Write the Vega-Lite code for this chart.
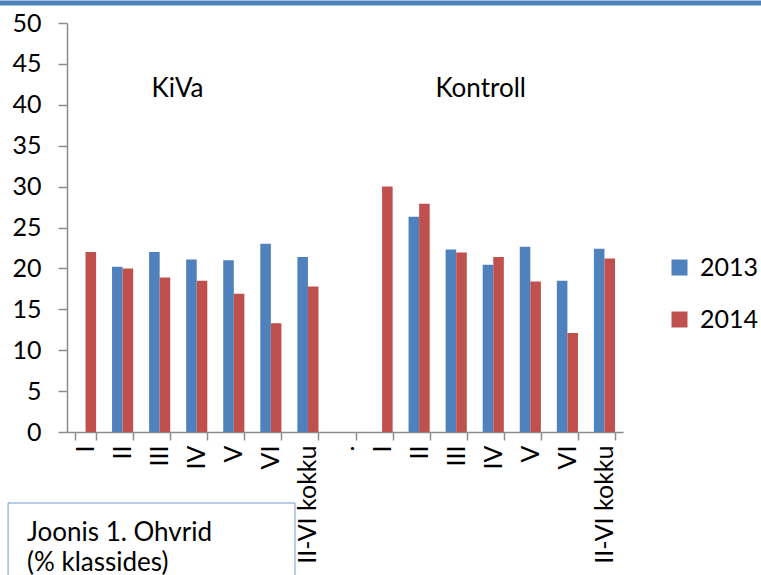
{
  "$schema": "https://vega.github.io/schema/vega-lite/v6.json",
  "autosize": {"type": "none"},
  "width": 556,
  "height": 409,
  "padding": {"left": 67, "top": 23, "right": 138, "bottom": 143},
  "background": "white",
  "config": {"view": {"stroke": null}, "font": "Lato"},
  "datasets": {
    "bars": [
      {"cat": "KiVa|I", "year": "2014", "value": 22.0},
      {"cat": "KiVa|II", "year": "2013", "value": 20.2},
      {"cat": "KiVa|II", "year": "2014", "value": 20.0},
      {"cat": "KiVa|III", "year": "2013", "value": 22.0},
      {"cat": "KiVa|III", "year": "2014", "value": 18.9},
      {"cat": "KiVa|IV", "year": "2013", "value": 21.1},
      {"cat": "KiVa|IV", "year": "2014", "value": 18.5},
      {"cat": "KiVa|V", "year": "2013", "value": 21.0},
      {"cat": "KiVa|V", "year": "2014", "value": 16.9},
      {"cat": "KiVa|VI", "year": "2013", "value": 23.0},
      {"cat": "KiVa|VI", "year": "2014", "value": 13.3},
      {"cat": "KiVa|II-VI kokku", "year": "2013", "value": 21.4},
      {"cat": "KiVa|II-VI kokku", "year": "2014", "value": 17.8},
      {"cat": "Kontroll|I", "year": "2014", "value": 30.0},
      {"cat": "Kontroll|II", "year": "2013", "value": 26.3},
      {"cat": "Kontroll|II", "year": "2014", "value": 27.9},
      {"cat": "Kontroll|III", "year": "2013", "value": 22.3},
      {"cat": "Kontroll|III", "year": "2014", "value": 21.95},
      {"cat": "Kontroll|IV", "year": "2013", "value": 20.45},
      {"cat": "Kontroll|IV", "year": "2014", "value": 21.4},
      {"cat": "Kontroll|V", "year": "2013", "value": 22.65},
      {"cat": "Kontroll|V", "year": "2014", "value": 18.4},
      {"cat": "Kontroll|VI", "year": "2013", "value": 18.5},
      {"cat": "Kontroll|VI", "year": "2014", "value": 12.1},
      {"cat": "Kontroll|II-VI kokku", "year": "2013", "value": 22.4},
      {"cat": "Kontroll|II-VI kokku", "year": "2014", "value": 21.2}
    ],
    "groupLabels": [
      {"x": 2.98, "y": 40.95, "text": "KiVa"},
      {"x": 11.16, "y": 40.95, "text": "Kontroll"}
    ],
    "boxText": [
      {"x": -1.079, "y": -13.33, "text": "Joonis 1. Ohvrid"},
      {"x": -1.079, "y": -17.0, "text": "(% klassides)"}
    ],
    "box": [{"x": -1.59, "x2": 6.15, "y": -8.68, "y2": -20}],
    "topBar": [{"x": -1.81, "x2": 18.73, "y": 52.45}]
  },
  "layer": [
    {
      "data": {"name": "topBar"},
      "mark": {"type": "rule", "color": "#4f81bd", "strokeWidth": 5},
      "encoding": {
        "x": {"field": "x", "type": "quantitative", "scale": {"domain": [0, 15], "nice": false, "zero": false}, "axis": null},
        "x2": {"field": "x2"},
        "y": {"field": "y", "type": "quantitative", "scale": {"domain": [0, 50], "nice": false}, "axis": null}
      }
    },
    {
      "data": {"name": "box"},
      "mark": {"type": "rect", "fill": "white", "stroke": "#7099cf", "strokeWidth": 1},
      "encoding": {
        "x": {"field": "x", "type": "quantitative", "scale": {"domain": [0, 15], "nice": false, "zero": false}, "axis": null},
        "x2": {"field": "x2"},
        "y": {"field": "y", "type": "quantitative", "scale": {"domain": [0, 50], "nice": false}, "axis": null},
        "y2": {"field": "y2"}
      }
    },
    {
      "data": {"name": "boxText"},
      "mark": {"type": "text", "align": "left", "baseline": "alphabetic", "fontSize": 26, "font": "Lato", "color": "black"},
      "encoding": {
        "x": {"field": "x", "type": "quantitative", "scale": {"domain": [0, 15], "nice": false, "zero": false}, "axis": null},
        "y": {"field": "y", "type": "quantitative", "scale": {"domain": [0, 50], "nice": false}, "axis": null},
        "text": {"field": "text"}
      }
    },
    {
      "data": {"name": "groupLabels"},
      "mark": {"type": "text", "align": "center", "baseline": "alphabetic", "fontSize": 26, "font": "Lato", "color": "black"},
      "encoding": {
        "x": {"field": "x", "type": "quantitative", "scale": {"domain": [0, 15], "nice": false, "zero": false}, "axis": null},
        "y": {"field": "y", "type": "quantitative", "scale": {"domain": [0, 50], "nice": false}, "axis": null},
        "text": {"field": "text"}
      }
    },
    {
      "data": {"name": "bars"},
      "mark": {"type": "bar"},
      "encoding": {
        "x": {
          "field": "cat",
          "type": "nominal",
          "sort": null,
          "scale": {
            "domain": ["KiVa|I", "KiVa|II", "KiVa|III", "KiVa|IV", "KiVa|V", "KiVa|VI", "KiVa|II-VI kokku", "|.", "Kontroll|I", "Kontroll|II", "Kontroll|III", "Kontroll|IV", "Kontroll|V", "Kontroll|VI", "Kontroll|II-VI kokku"],
            "paddingInner": 0.43,
            "paddingOuter": 0.215
          },
          "axis": {
            "title": null,
            "labelExpr": "split(datum.value, '|')[1]",
            "labelAngle": -90,
            "labelFontSize": 25,
            "labelFont": "Lato",
            "labelColor": "black",
            "labelLimit": 300,
            "tickBand": "extent",
            "tickSize": 8,
            "tickWidth": 1.5,
            "tickColor": "#8c8c8c",
            "domainColor": "#8c8c8c",
            "domainWidth": 1.5,
            "labelPadding": 5,
            "grid": false
          }
        },
        "xOffset": {"field": "year", "type": "nominal", "scale": {"domain": ["2013", "2014"]}},
        "y": {
          "field": "value",
          "type": "quantitative",
          "scale": {"domain": [0, 50], "nice": false},
          "axis": {
            "title": null,
            "values": [0, 5, 10, 15, 20, 25, 30, 35, 40, 45, 50],
            "labelFontSize": 25,
            "labelFont": "Lato",
            "labelColor": "black",
            "tickSize": 9,
            "tickWidth": 1.5,
            "tickColor": "#8c8c8c",
            "gridColor": "#8c8c8c",
            "gridWidth": 1.5,
            "domainColor": "#8c8c8c",
            "domainWidth": 1.5,
            "labelPadding": 17
          }
        },
        "color": {
          "field": "year",
          "type": "nominal",
          "scale": {"domain": ["2013", "2014"], "range": ["#4f81bd", "#c0504d"]},
          "legend": {
            "title": null,
            "orient": "none",
            "legendX": 600,
            "legendY": 232,
            "symbolType": "square",
            "symbolSize": 256,
            "symbolStrokeWidth": 0,
            "labelFontSize": 25,
            "labelFont": "Lato",
            "labelColor": "black",
            "labelOffset": 8,
            "rowPadding": 26
          }
        }
      }
    }
  ],
  "resolve": {"scale": {"x": "independent"}, "axis": {"y": "independent"}}
}
